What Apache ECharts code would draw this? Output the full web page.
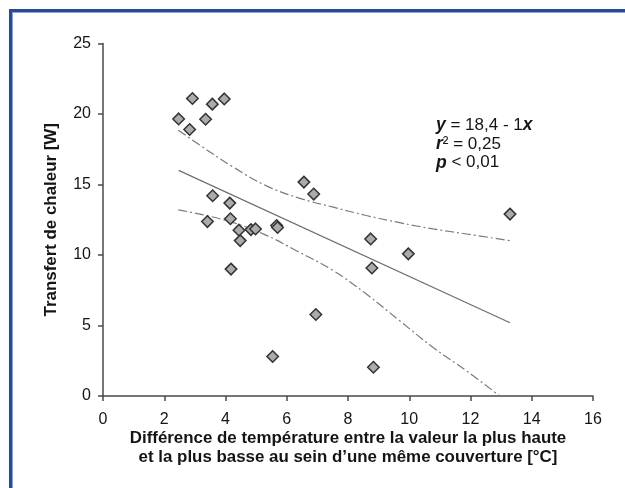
<!DOCTYPE html>
<html>
<head>
<meta charset="utf-8">
<script src="https://cdn.jsdelivr.net/npm/echarts@6/dist/echarts.min.js"></script>
<style>
html,body{margin:0;padding:0;background:#fff;}
#chart{width:625px;height:488px;}
</style>
</head>
<body>
<div id="chart"></div>
<script>
// ---- data ----
var xTicks = [0, 2, 4, 6, 8, 10, 12, 14, 16];
var yTicks = [0, 5, 10, 15, 20, 25];
var pointX = [2.47, 2.92, 2.83, 3.35, 3.57, 3.96, 3.58, 3.41, 4.14, 4.16, 4.44, 4.48, 4.18, 4.83, 4.98, 5.67, 5.70, 5.54, 6.56, 6.88, 6.95, 8.74, 8.78, 8.83, 9.97, 13.29];
var pointY = [19.65, 21.1, 18.9, 19.63, 20.7, 21.07, 14.2, 12.37, 13.68, 12.57, 11.76, 11.02, 9.0, 11.8, 11.85, 12.09, 11.95, 2.8, 15.17, 14.32, 5.78, 11.14, 9.08, 2.04, 10.08, 12.9];
var fitX = [2.47, 13.29];
var fitY = [16.0, 5.2];
var upperX = [2.46, 3.17, 4.25, 5.34, 6.43, 7.52, 8.6, 9.69, 10.78, 11.87, 13.28];
var upperY = [18.85, 17.78, 16.24, 14.9, 14.02, 13.39, 12.8, 12.29, 11.85, 11.49, 11.02];
var lowerX = [2.46, 3.93, 5.23, 6.32, 7.52, 8.6, 9.69, 10.78, 11.87, 12.96];
var lowerY = [13.2, 12.5, 11.5, 10.3, 8.89, 7.23, 5.33, 3.44, 1.78, 0.0];
var xTitle = "Différence de température entre la valeur la plus haute\net la plus basse au sein d\u2019une même couverture [°C]";
var yTitle = "Transfert de chaleur [W]";

function zip(a, b) { return a.map(function (v, i) { return [v, b[i]]; }); }

var chart = echarts.init(document.getElementById('chart'), null, {renderer: 'canvas'});
var font = 'Liberation Sans, Arial, sans-serif';
var axisCol = '#4a4a4a';
var txt = '#151515';
var dashDot = [9, 3, 2, 3];

chart.setOption({
  animation: false,
  backgroundColor: '#ffffff',
  grid: {left: 103, right: 32, top: 43.5, bottom: 92, containLabel: false},
  xAxis: {
    type: 'value', min: xTicks[0], max: xTicks[xTicks.length - 1], interval: 2,
    name: xTitle, nameLocation: 'middle', nameGap: 33, nameMoveOverlap: false,
    nameTextStyle: {fontFamily: font, fontSize: 16.9, fontWeight: 'bold', color: txt, lineHeight: 18.8},
    axisLine: {show: true, lineStyle: {color: axisCol, width: 1.5}},
    axisTick: {show: true, inside: false, length: 5, lineStyle: {color: axisCol, width: 1.5}},
    axisLabel: {fontFamily: font, fontSize: 16, color: txt, margin: 16},
    splitLine: {show: false}
  },
  yAxis: {
    type: 'value', min: yTicks[0], max: yTicks[yTicks.length - 1], interval: 5,
    name: yTitle, nameLocation: 'middle', nameGap: 43, nameRotate: 90, nameMoveOverlap: false,
    nameTextStyle: {fontFamily: font, fontSize: 16.9, fontWeight: 'bold', color: txt},
    axisLine: {show: true, lineStyle: {color: axisCol, width: 1.5}},
    axisTick: {show: true, inside: false, length: 5, lineStyle: {color: axisCol, width: 1.5}},
    axisLabel: {fontFamily: font, fontSize: 16, color: txt, margin: 12},
    splitLine: {show: false}
  },
  series: [
    {
      type: 'line', data: zip(upperX, upperY), symbol: 'none', smooth: 0.4,
      lineStyle: {color: '#7a7a7a', width: 1.2, type: dashDot}, z: 2
    },
    {
      type: 'line', data: zip(lowerX, lowerY), symbol: 'none', smooth: 0.4,
      lineStyle: {color: '#7a7a7a', width: 1.2, type: dashDot}, z: 2
    },
    {
      type: 'line', data: zip(fitX, fitY), symbol: 'none',
      lineStyle: {color: '#6e6e6e', width: 1.2}, z: 2
    },
    {
      type: 'scatter', data: zip(pointX, pointY), symbol: 'diamond', symbolSize: 11.5,
      itemStyle: {color: '#ababab', borderColor: '#333333', borderWidth: 1.5, opacity: 1}, z: 5
    }
  ],
  graphic: [
    {type: 'rect', shape: {x: 9, y: 9, width: 616, height: 3}, style: {fill: '#284b8f'}, z: 100},
    {type: 'rect', shape: {x: 9, y: 9, width: 3, height: 479}, style: {fill: '#284b8f'}, z: 100},
    {type: 'rect', shape: {x: 12, y: 12, width: 613, height: 1}, style: {fill: '#8ea7d2'}, z: 100},
    {type: 'rect', shape: {x: 12, y: 12, width: 1, height: 476}, style: {fill: '#8ea7d2'}, z: 100},
    {
      type: 'text', left: 436, top: 116, z: 50,
      style: {
        text: '{i|y} = 18,4 - 1{i|x}\n{i|r}² = 0,25\n{i|p} < 0,01',
        font: '17px ' + font, fill: txt, lineHeight: 18.7,
        rich: {
          i: {fontFamily: font, fontSize: 17.5, fontStyle: 'italic', fontWeight: 'bold', fill: txt, lineHeight: 18.7}
        }
      }
    }
  ]
});
</script>
</body>
</html>
